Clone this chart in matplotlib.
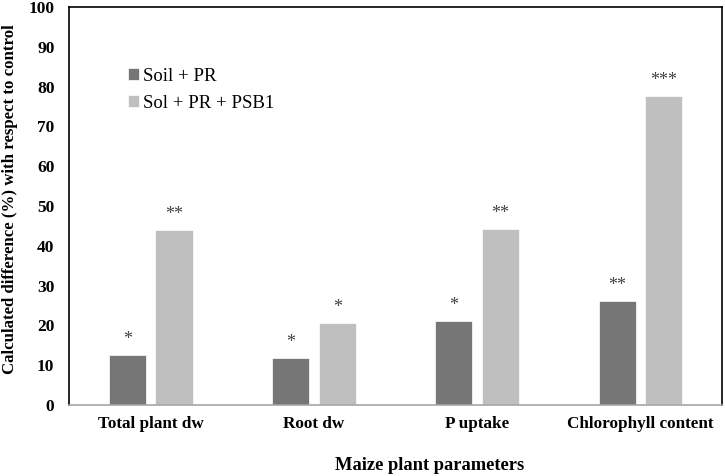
import matplotlib.pyplot as plt
import numpy as np

plt.rcParams['font.family'] = ['Liberation Serif', 'DejaVu Serif']

categories = ['Total plant dw', 'Root dw', 'P uptake', 'Chlorophyll content']
soil_pr = [12.6, 11.8, 21.1, 26.1]
soil_pr_psb1 = [44.0, 20.6, 44.2, 77.6]
sig_soil_pr = ['*', '*', '*', '**']
sig_soil_pr_psb1 = ['**', '*', '**', '***']

fig = plt.figure(figsize=(7.25, 4.76), dpi=100)
ax = fig.add_axes([0.0952, 0.1492, 0.9007, 0.8361])

x = np.arange(len(categories))
w = 0.227
off = 0.143
b1 = ax.bar(x - off, soil_pr, w, color='#767676', edgecolor='white', linewidth=0.5, label='Soil + PR')
b2 = ax.bar(x + off, soil_pr_psb1, w, color='#bfbfbf', edgecolor='white', linewidth=0.5, label='Sol + PR + PSB1')

# significance stars above the bars
for bars, sig in [(b1, sig_soil_pr), (b2, sig_soil_pr_psb1)]:
    for bar, s in zip(bars, sig):
        ax.annotate(s, (bar.get_x() + bar.get_width() / 2, bar.get_height()),
                    xytext=(0, 5), textcoords='offset points', ha='center', va='bottom',
                    fontsize=13, color='#404040')

ax.set_xlim(-0.5, len(categories) - 0.5)
ax.set_ylim(0, 100)
ax.set_yticks(range(0, 101, 10))
ax.set_xticks(x)
ax.set_xticklabels(categories, fontsize=12.3, fontweight='bold')
for t in ax.get_yticklabels():
    t.set_fontsize(12.5)
    t.set_fontweight('bold')
ax.tick_params(axis='both', length=0)
ax.tick_params(axis='x', pad=8)
ax.tick_params(axis='y', pad=10.5)

for s in ['left', 'top', 'right']:
    ax.spines[s].set_color('black')
    ax.spines[s].set_linewidth(1.2)
ax.spines['bottom'].set_color('#a6a6a6')
ax.spines['bottom'].set_linewidth(1.2)

fig.text(430 / 725, 1 - 465 / 476, 'Maize plant parameters', fontsize=13.3,
         fontweight='bold', ha='center', va='center')
fig.text(10 / 725, 1 - 199 / 476, 'Calculated difference (%) with respect to control',
         fontsize=12.1, fontweight='bold', rotation=90, ha='center', va='center')

ax.legend(loc='upper left', bbox_to_anchor=(0.064, 0.89), frameon=False, fontsize=13.5,
          handlelength=0.6, handleheight=0.6, handletextpad=0.2, labelspacing=0.55)

fig.savefig('out.png', dpi=100)
